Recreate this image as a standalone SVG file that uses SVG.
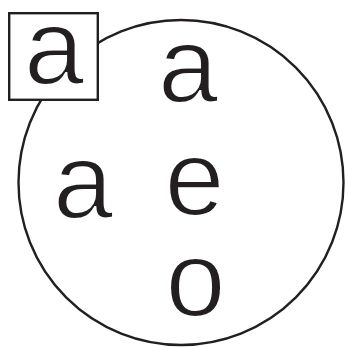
<svg xmlns="http://www.w3.org/2000/svg" width="345" height="347" viewBox="0 0 345 347">
<style>
.shape{fill:#fff;stroke:#231f20;stroke-width:2.4}
.letter{font-family:"Liberation Sans",Arial,sans-serif;font-size:108px;fill:#231f20;stroke:#fff;stroke-width:2;text-anchor:middle}
</style>
<rect width="345" height="347" fill="#fff"/>
<g id="circle-node">
<circle class="shape" cx="181" cy="182.5" r="162.5"/>
</g>
<g id="box-node">
<rect class="shape" x="9.2" y="13.2" width="88.6" height="86.6"/>
<text class="letter" x="54" y="84">a</text>
</g>
<g id="letter-a-top"><text class="letter" x="188" y="102">a</text></g>
<g id="letter-a-left"><text class="letter" x="83" y="218">a</text></g>
<g id="letter-e"><text class="letter" x="194.5" y="215">e</text></g>
<g id="letter-o"><text class="letter" x="195.5" y="316">o</text></g>
</svg>
